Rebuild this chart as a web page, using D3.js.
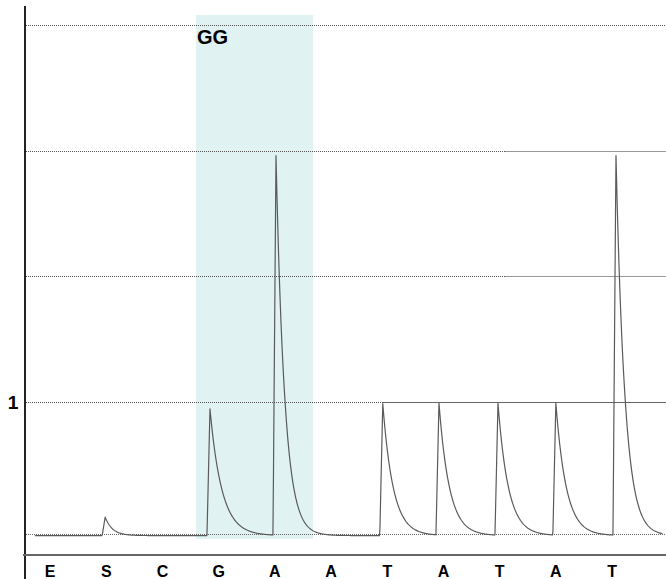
<!DOCTYPE html>
<html>
<head>
<meta charset="utf-8">
<script src="https://cdn.jsdelivr.net/npm/d3@7"></script>
<style>
  html, body { margin: 0; padding: 0; background: #fff; }
  svg { display: block; }
  text { font-family: "Liberation Sans", Arial, sans-serif; font-weight: bold; fill: #000; }
</style>
</head>
<body>
<svg id="chart" width="666" height="579"></svg>
<script>
// ---- data ----
const dispensations = ["E", "S", "C", "G", "A", "A", "T", "A", "T", "A", "T"];
// peak apex positions (in dispensation units along the run) and heights
const peakPositions = [1.48, 3.345, 4.52, 6.42, 7.42, 8.47, 9.50, 10.57];
const peakHeights   = [0.14, 0.96, 2.97, 1.0, 1.0, 1.0, 1.0, 2.97];
const peakDecay     = [0.13, 0.21, 0.15, 0.185, 0.185, 0.185, 0.185, 0.155];
const gridValues = [1, 2, 3, 4];
const yTickLabels = [{ v: 1, label: "1" }];
const highlightRange = [3.096, 5.18];
const highlightLabel = "GG";
const traceRange = [0.23, 11.4];
const traceBaseline = -0.012;

// ---- layout / style ----
const W = 666, H = 579;
const svg = d3.select("#chart");
const x = d3.scaleLinear().domain([0, 11.46]).range([22, 666]);
const y = d3.scaleLinear().domain([0, 1, 4]).range([534, 402, 25]);
const solidFrom = { 1: 383, 2: 505, 3: 505, 4: 9999 };

// highlight band
svg.append("rect")
  .attr("x", x(highlightRange[0]))
  .attr("y", 15)
  .attr("width", x(highlightRange[1]) - x(highlightRange[0]))
  .attr("height", 539 - 15)
  .attr("fill", "#e1f2f3");

svg.append("text")
  .attr("x", x(highlightRange[0]) + 1)
  .attr("y", 44)
  .attr("font-size", 20)
  .text(highlightLabel);

// gridlines: dotted then solid
gridValues.forEach(v => {
  const yy = Math.round(y(v)) + 0.5;
  const sx = Math.min(solidFrom[v], W);
  svg.append("line")
    .attr("x1", 26).attr("x2", sx).attr("y1", yy).attr("y2", yy)
    .attr("stroke", "#555").attr("stroke-width", 1).attr("stroke-dasharray", "1,1");
  if (sx < W) {
    svg.append("line")
      .attr("x1", sx).attr("x2", W).attr("y1", yy).attr("y2", yy)
      .attr("stroke", v === 1 ? "#666" : "#999").attr("stroke-width", 1);
  }
});
// baseline dotted
svg.append("line")
  .attr("x1", 26).attr("x2", W).attr("y1", Math.round(y(0)) + 0.5).attr("y2", Math.round(y(0)) + 0.5)
  .attr("stroke", "#666").attr("stroke-width", 1).attr("stroke-dasharray", "1,1");

// trace
const rise = 3 / (x(1) - x(0));
function signal(u) {
  let s = traceBaseline;
  peakPositions.forEach((p, i) => {
    const h = peakHeights[i];
    const start = p - rise;
    if (u >= start && u < p) s += h * (u - start) / rise;
    else if (u >= p) s += h * Math.exp(-(u - p) / peakDecay[i]);
  });
  return s;
}
const pts = [];
const px0 = x(traceRange[0]), px1 = x(traceRange[1]);
for (let px = px0; px <= px1; px += 0.5) {
  const u = x.invert(px);
  pts.push([u, signal(u)]);
}
peakPositions.forEach((p) => pts.push([p, signal(p)]));
pts.sort((a, b) => a[0] - b[0]);
svg.append("path")
  .datum(pts)
  .attr("d", d3.line().x(d => x(d[0])).y(d => y(d[1])))
  .attr("fill", "none")
  .attr("stroke", "#5a5a5a")
  .attr("stroke-width", 1.2)
  .attr("stroke-linejoin", "round");

// axes
svg.append("line")
  .attr("x1", 25).attr("x2", 25).attr("y1", 6).attr("y2", H)
  .attr("stroke", "#222").attr("stroke-width", 2);
svg.append("line")
  .attr("x1", 23).attr("x2", W).attr("y1", 555).attr("y2", 555)
  .attr("stroke", "#666").attr("stroke-width", 2);

// y tick label
svg.selectAll(".ylab").data(yTickLabels).enter().append("text")
  .attr("class", "ylab")
  .attr("x", 13).attr("y", d => y(d.v) + 7)
  .attr("text-anchor", "middle")
  .attr("font-size", 19)
  .text(d => d.label);

// x labels
svg.selectAll(".xlab").data(dispensations).enter().append("text")
  .attr("class", "xlab")
  .attr("x", (d, i) => x(i + 0.5))
  .attr("y", 577)
  .attr("text-anchor", "middle")
  .attr("font-size", 16)
  .text(d => d);
</script>
</body>
</html>
